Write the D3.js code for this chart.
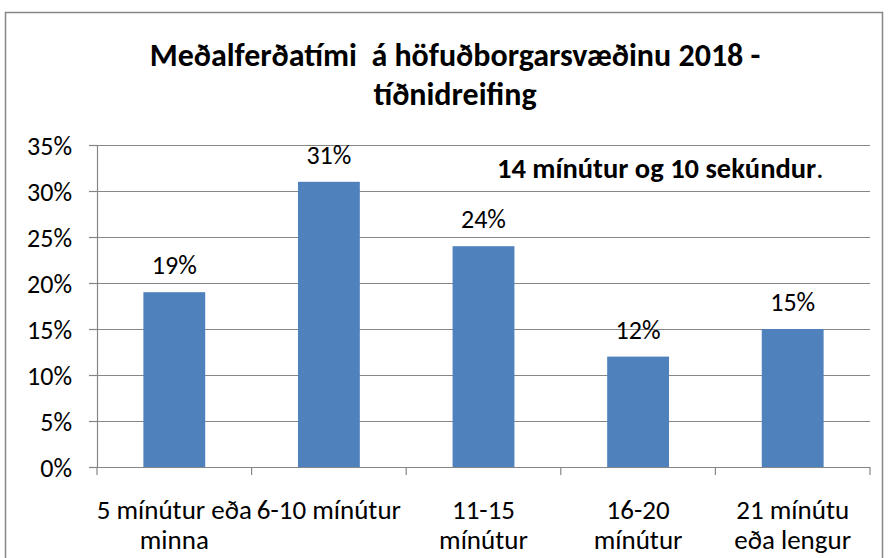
<!DOCTYPE html>
<html>
<head>
<meta charset="utf-8">
<script src="https://cdn.jsdelivr.net/npm/d3@7"></script>
<style>
  body { margin: 0; background: #fff; }
  text { font-family: Carlito, Calibri, Lato, sans-serif; fill: #000; }
</style>
</head>
<body>
<script>
// data
var categories = ["5 mínútur eða minna", "6-10 mínútur", "11-15 mínútur", "16-20 mínútur", "21 mínútu eða lengur"];
var catLines = [["5 mínútur eða", "minna"], ["6-10 mínútur"], ["11-15", "mínútur"], ["16-20", "mínútur"], ["21 mínútu", "eða lengur"]];
var shares = [0.19, 0.31, 0.24, 0.12, 0.15];
var yTicks = [0, 0.05, 0.10, 0.15, 0.20, 0.25, 0.30, 0.35];
var titleLines = ["Meðalferðatími  á höfuðborgarsvæðinu 2018 -", "tíðnidreifing"];
var note = "14 mínútur og 10 sekúndur";

var width = 888, height = 558;
var plot = {left: 97, right: 870, top: 145, bottom: 467};

var svg = d3.select("body").append("svg")
    .attr("width", width)
    .attr("height", height);

// outer frame
svg.append("rect")
    .attr("x", 5.5).attr("y", 12.5)
    .attr("width", 877).attr("height", 560)
    .attr("fill", "#fff")
    .attr("stroke", "#868686")
    .attr("stroke-width", 1.5);

var x = d3.scaleBand()
    .domain(categories)
    .range([plot.left, plot.right])
    .paddingInner(0.6)
    .paddingOuter(0.3);

var y = d3.scaleLinear()
    .domain([0, 0.35])
    .range([plot.bottom, plot.top]);

// gridlines
svg.append("g").selectAll("line")
    .data(yTicks.slice(1))
  .enter().append("line")
    .attr("x1", plot.left).attr("x2", plot.right)
    .attr("y1", function(d) { return Math.round(y(d)) + 0.5; })
    .attr("y2", function(d) { return Math.round(y(d)) + 0.5; })
    .attr("stroke", "#868686")
    .attr("stroke-width", 1.2);

// y axis
var yAxis = svg.append("g")
    .attr("transform", "translate(" + plot.left + ",0)")
    .call(d3.axisLeft(y).tickValues(yTicks).tickSize(8).tickPadding(17)
      .tickFormat(d3.format(".0%")));
yAxis.select(".domain").attr("stroke", "#868686").attr("stroke-width", 1.2);
yAxis.selectAll(".tick line").attr("stroke", "#868686").attr("stroke-width", 1.2);
yAxis.selectAll("text").style("font-size", "26px").attr("fill", "#000").attr("dy", "0.36em");

// x axis (ticks at band boundaries)
var bounds = d3.range(categories.length + 1).map(function(i) {
  return plot.left + i * (plot.right - plot.left) / categories.length;
});
svg.append("line")
    .attr("x1", plot.left).attr("x2", plot.right)
    .attr("y1", plot.bottom + 0.5).attr("y2", plot.bottom + 0.5)
    .attr("stroke", "#868686").attr("stroke-width", 1.2);
svg.append("g").selectAll("line")
    .data(bounds)
  .enter().append("line")
    .attr("x1", function(d) { return d; }).attr("x2", function(d) { return d; })
    .attr("y1", plot.bottom).attr("y2", plot.bottom + 8)
    .attr("stroke", "#868686").attr("stroke-width", 1.2);

// bars
svg.append("g").selectAll("rect")
    .data(shares)
  .enter().append("rect")
    .attr("x", function(d, i) { return x(categories[i]); })
    .attr("y", function(d) { return y(d); })
    .attr("width", x.bandwidth())
    .attr("height", function(d) { return y(0) - y(d); })
    .attr("fill", "#4F81BD");

// value labels
svg.append("g").selectAll("text")
    .data(shares)
  .enter().append("text")
    .attr("x", function(d, i) { return x(categories[i]) + x.bandwidth() / 2; })
    .attr("y", function(d) { return y(d) - 18; })
    .attr("text-anchor", "middle")
    .style("font-size", "26px")
    .text(function(d) { return Math.round(d * 100) + "%"; });

// category labels
var cat = svg.append("g").selectAll("text")
    .data(catLines)
  .enter().append("text")
    .attr("text-anchor", "middle")
    .style("font-size", "27px")
    .attr("transform", function(d, i) {
      return "translate(" + (x(categories[i]) + x.bandwidth() / 2) + "," + 519 + ")";
    });
cat.selectAll("tspan")
    .data(function(d) { return d; })
  .enter().append("tspan")
    .attr("x", 0)
    .attr("y", function(d, i) { return i * 30; })
    .text(function(d) { return d; });

// title (keeps the double space)
svg.append("g").selectAll("text")
    .data(titleLines)
  .enter().append("text")
    .attr("x", 455)
    .attr("y", function(d, i) { return 66 + i * 39; })
    .attr("text-anchor", "middle")
    .style("font-size", "32px")
    .style("font-weight", "bold")
    .style("white-space", "pre")
    .text(function(d) { return d; });

// annotation
var ann = svg.append("text")
    .attr("x", 497).attr("y", 178)
    .style("font-size", "28.5px");
ann.append("tspan").style("font-weight", "bold").text(note);
ann.append("tspan").text(".");
</script>
</body>
</html>
